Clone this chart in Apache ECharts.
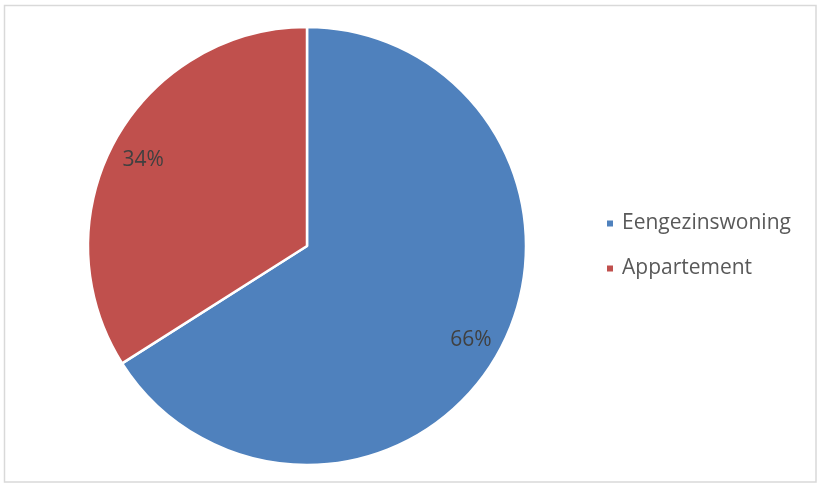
<!DOCTYPE html>
<html>
<head>
<meta charset="utf-8">
<script src="https://cdn.jsdelivr.net/npm/echarts@6/dist/echarts.min.js"></script>
<style>
html,body{margin:0;padding:0;background:#fff;}
#c{width:822px;height:486px;}
</style>
</head>
<body>
<div id="c"></div>
<script>
const categories = ['Eengezinswoning', 'Appartement'];
const values = [66, 34];
const colors = ['#4F81BD', '#C0504D'];

const data = categories.map((n, i) => ({ name: n, value: values[i], itemStyle: { color: colors[i] } }));
const chart = echarts.init(document.getElementById('c'), null, { renderer: 'canvas' });
const font = '"Open Sans", sans-serif';
chart.setOption({
  animation: false,
  graphic: [{
    type: 'rect', shape: { x: 4.5, y: 5.5, width: 811.5, height: 476.5 },
    style: { fill: 'none', stroke: '#d9d9d9', lineWidth: 1.5 }, silent: true
  }],
  legend: {
    orient: 'vertical', left: 605, top: 213, padding: 0,
    itemWidth: 8, itemHeight: 8, itemGap: 24, icon: 'rect',
    textStyle: { fontFamily: font, fontSize: 21, color: '#595959', padding: [0, 0, 0, 3] },
    data: categories
  },
  series: [{
    type: 'pie', center: [307, 246], radius: [0, 219], startAngle: 90, clockwise: true,
    label: { show: false }, labelLine: { show: false },
    itemStyle: { borderColor: '#fff', borderWidth: 2.5 },
    emphasis: { disabled: true },
    data: data
  }, {
    type: 'pie', center: [307, 250], radius: [150, 218], startAngle: 90, clockwise: true,
    silent: true,
    itemStyle: { color: 'transparent', borderWidth: 0 },
    label: { show: true, position: 'inside', formatter: p => Math.round(p.percent) + '%',
      fontFamily: font, fontSize: 21, color: '#404040' },
    labelLine: { show: false },
    emphasis: { disabled: true },
    data: categories.map((n, i) => ({ name: n, value: values[i], itemStyle: { color: 'transparent' } }))
  }]
});
</script>
</body>
</html>
